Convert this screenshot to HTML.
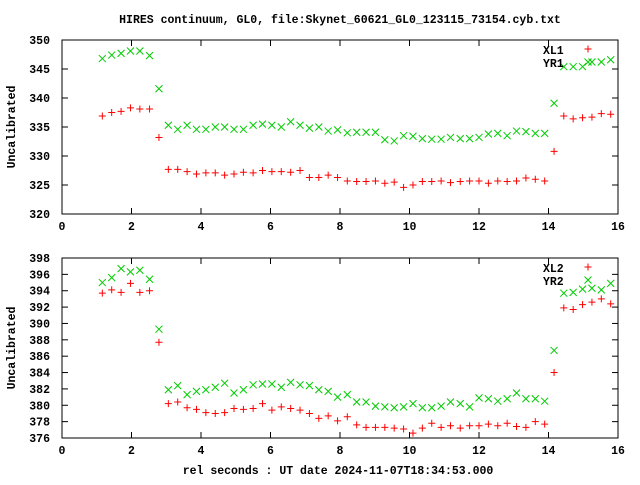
<!DOCTYPE html>
<html><head><meta charset="utf-8"><style>
body{margin:0;background:#fff}
svg text{font-family:"Liberation Mono",monospace;font-size:11.5px;font-weight:bold;fill:#000}
</style></head><body>
<svg id="c" width="640" height="480" viewBox="0 0 640 480">
<text x="340" y="23" text-anchor="middle">HIRES continuum, GL0, file:Skynet_60621_GL0_123115_73154.cyb.txt</text>
<text x="338" y="474" text-anchor="middle">rel seconds : UT date 2024-11-07T18:34:53.000</text>
</svg>
<script>
const xs=[1.16,1.43,1.70,1.97,2.24,2.52,2.79,3.06,3.33,3.60,3.87,4.14,4.41,4.68,4.95,5.22,5.50,5.77,6.04,6.31,6.58,6.85,7.12,7.39,7.66,7.93,8.21,8.48,8.75,9.02,9.29,9.56,9.83,10.10,10.37,10.64,10.91,11.18,11.46,11.73,12.00,12.27,12.54,12.81,13.08,13.35,13.62,13.89,14.16,14.44,14.71,14.98,15.25,15.52,15.79];
const xl1=[336.9,337.5,337.7,338.3,338.1,338.1,333.2,327.7,327.7,327.3,326.9,327.1,327.1,326.7,326.9,327.2,327.1,327.5,327.3,327.3,327.2,327.5,326.3,326.3,326.7,326.3,325.7,325.6,325.6,325.7,325.3,325.5,324.6,325.0,325.6,325.6,325.7,325.4,325.6,325.7,325.7,325.3,325.7,325.6,325.7,326.2,326.0,325.7,330.8,336.9,336.4,336.6,336.7,337.3,337.2];
const yr1=[346.8,347.4,347.7,348.1,348.1,347.3,341.6,335.3,334.6,335.3,334.6,334.6,335.0,335.0,334.6,334.6,335.3,335.5,335.3,335.0,335.9,335.3,334.8,335.0,334.3,334.5,334.0,334.1,334.1,334.1,332.8,332.6,333.5,333.4,333.0,332.9,332.9,333.2,333.0,333.0,333.2,333.8,333.9,333.5,334.3,334.2,333.9,333.9,339.1,345.4,345.4,345.4,346.2,346.2,346.6];
const xl2=[393.7,394.1,393.8,394.9,393.8,394.0,387.7,380.2,380.4,379.7,379.5,379.1,379.0,379.1,379.6,379.5,379.6,380.2,379.4,379.8,379.6,379.4,379.0,378.4,378.7,378.1,378.6,377.6,377.3,377.3,377.3,377.2,377.1,376.6,377.2,377.8,377.3,377.5,377.2,377.5,377.5,377.7,377.5,377.8,377.4,377.3,378.0,377.7,384.0,391.9,391.7,392.3,392.6,393.0,392.4];
const yr2=[395.0,395.6,396.7,396.3,396.5,395.4,389.3,381.9,382.4,381.3,381.7,381.9,382.2,382.7,381.5,381.9,382.5,382.6,382.6,382.2,382.8,382.5,382.4,381.9,381.7,381.0,381.3,380.4,380.4,379.9,379.8,379.7,379.8,380.2,379.7,379.7,379.9,380.4,380.2,379.8,380.9,380.8,380.5,380.8,381.5,380.8,380.8,380.5,386.7,393.7,393.8,394.2,394.3,394.1,394.9];
const xTicks=[0,2,4,6,8,10,12,14,16];
const yTicks1=[320,325,330,335,340,345,350];
const yTicks2=[376,378,380,382,384,386,388,390,392,394,396,398];
const svg=document.getElementById('c');const NS='http://www.w3.org/2000/svg';
function mk(t,a,p){const e=document.createElementNS(NS,t);for(const k in a)e.setAttribute(k,a[k]);(p||svg).appendChild(e);return e;}
function panel(top,bot,ymin,ymax,yt,sA,sB,nA,nB,id){
  const L=62,R=618;
  const g=mk('g',{});
  
  
  const X=v=>L+(v-0)/16*(R-L), Y=v=>bot-(v-ymin)/(ymax-ymin)*(bot-top);
  xTicks.forEach(t=>{const x=X(t);
    mk('line',{x1:x,x2:x,y1:bot,y2:bot-6,stroke:'#000'},g);mk('line',{x1:x,x2:x,y1:top,y2:top+6,stroke:'#000'},g);
    const tx=mk('text',{x:x,y:bot+16,'text-anchor':'middle'},g);tx.textContent=t;
    
    });
  yt.forEach(t=>{const y=Y(t);
    mk('line',{x1:L,x2:L+6,y1:y,y2:y,stroke:'#000'},g);mk('line',{x1:R,x2:R-6,y1:y,y2:y,stroke:'#000'},g);
    const tx=mk('text',{x:L-12,y:y+4,'text-anchor':'end'},g);tx.textContent=t;
    
    });
  mk('rect',{x:L,y:top,width:R-L,height:bot-top,fill:'none',stroke:'#000'},g);
  const yl=mk('text',{x:15,y:(top+bot)/2,'text-anchor':'middle',transform:`rotate(-90 15 ${(top+bot)/2})`},g);yl.textContent='Uncalibrated';
  
  
  function plus(x,y,p){mk('path',{d:`M${x-3.5},${y}h7M${x},${y-3.5}v7`,stroke:'#f00','stroke-width':1,fill:'none'},p);}
  function cross(x,y,p){mk('path',{d:`M${x-3.5},${y-3.5}l7,7M${x-3.5},${y+3.5}l7,-7`,stroke:'#0c0','stroke-width':1,fill:'none'},p);}
  const gA=mk('g',{},g);
  const gB=mk('g',{},g);
  xs.forEach((v,i)=>{plus(X(v),Y(sA[i]),gA);cross(X(v),Y(sB[i]),gB);});
  const t1=mk('text',{x:543,y:top+14},g);t1.textContent=nA;
  
  
  const t2=mk('text',{x:543,y:top+27},g);t2.textContent=nB;
  
  
  plus(588,top+9,g);cross(588,top+22,g);
}
panel(40,214,320,350,yTicks1,xl1,yr1,'XL1','YR1','top-panel');
panel(258,438,376,398,yTicks2,xl2,yr2,'XL2','YR2','bottom-panel');
</script>
</body></html>
